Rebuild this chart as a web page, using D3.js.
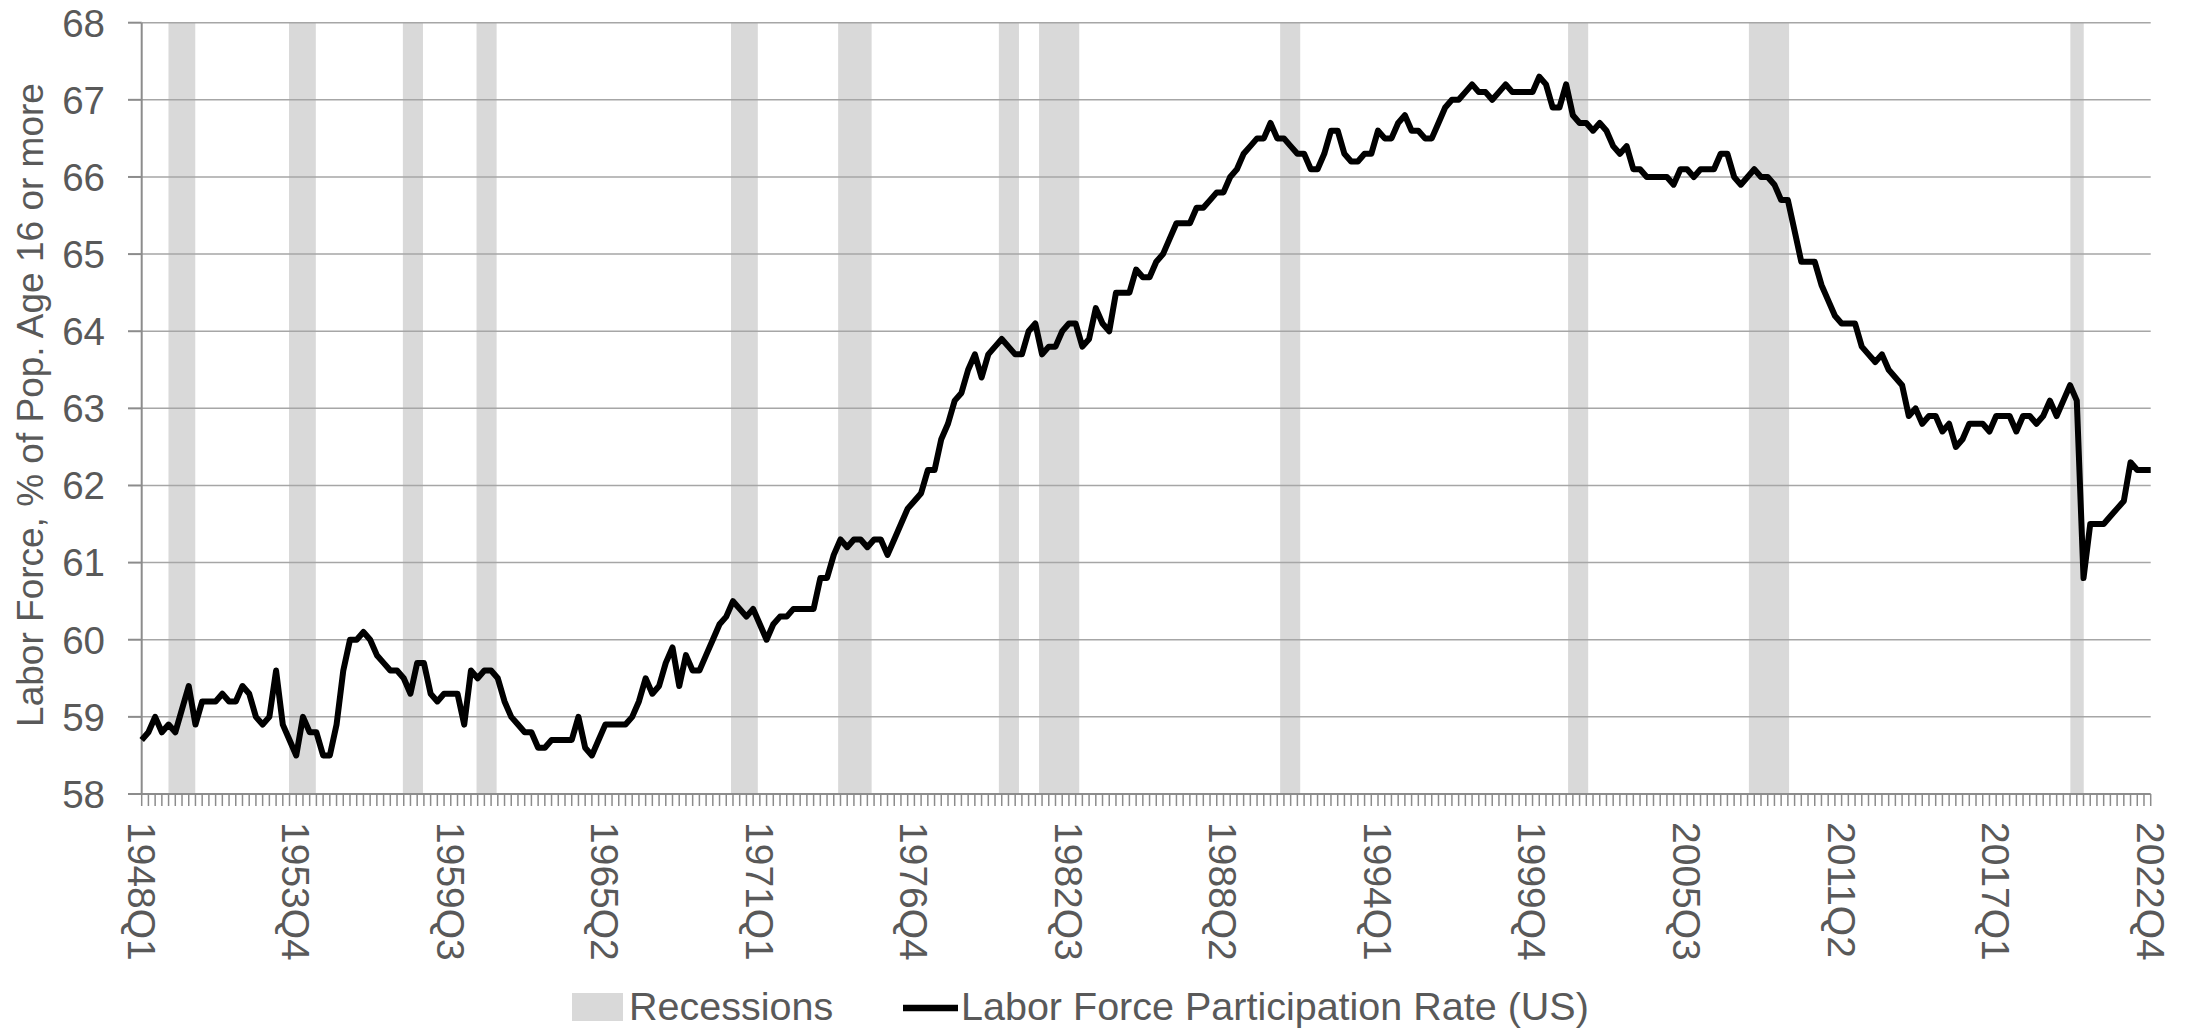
<!DOCTYPE html>
<html>
<head>
<meta charset="utf-8">
<script src="https://cdnjs.cloudflare.com/ajax/libs/d3/7.8.5/d3.min.js"></script>
<style>
  html, body { margin: 0; padding: 0; background: #fff; }
  svg { display: block; }
  text { font-family: "Liberation Sans", Arial, sans-serif; fill: #595959; }
</style>
</head>
<body>
<svg id="chart"></svg>
<script>
// quarterly categories 1948Q1 .. 2022Q4
const quarters = [];
for (let yr = 1948; yr <= 2022; yr++) for (let q = 1; q <= 4; q++) quarters.push(`${yr}Q${q}`);

// labor force participation rate, one row per year (Q1..Q4)
const lfpr = [
  58.7, 58.8, 59.0, 58.8,  // 1948
  58.9, 58.8, 59.1, 59.4,
  58.9, 59.2, 59.2, 59.2,  // 1950
  59.3, 59.2, 59.2, 59.4,
  59.3, 59.0, 58.9, 59.0,
  59.6, 58.9, 58.7, 58.5,
  59.0, 58.8, 58.8, 58.5,
  58.5, 58.9, 59.6, 60.0,  // 1955
  60.0, 60.1, 60.0, 59.8,
  59.7, 59.6, 59.6, 59.5,
  59.3, 59.7, 59.7, 59.3,
  59.2, 59.3, 59.3, 59.3,
  58.9, 59.6, 59.5, 59.6,  // 1960
  59.6, 59.5, 59.2, 59.0,
  58.9, 58.8, 58.8, 58.6,
  58.6, 58.7, 58.7, 58.7,
  58.7, 59.0, 58.6, 58.5,
  58.7, 58.9, 58.9, 58.9,  // 1965
  58.9, 59.0, 59.2, 59.5,
  59.3, 59.4, 59.7, 59.9,
  59.4, 59.8, 59.6, 59.6,
  59.8, 60.0, 60.2, 60.3,
  60.5, 60.4, 60.3, 60.4,  // 1970
  60.2, 60.0, 60.2, 60.3,
  60.3, 60.4, 60.4, 60.4,
  60.4, 60.8, 60.8, 61.1,
  61.3, 61.2, 61.3, 61.3,
  61.2, 61.3, 61.3, 61.1,  // 1975
  61.3, 61.5, 61.7, 61.8,
  61.9, 62.2, 62.2, 62.6,
  62.8, 63.1, 63.2, 63.5,
  63.7, 63.4, 63.7, 63.8,
  63.9, 63.8, 63.7, 63.7,  // 1980
  64.0, 64.1, 63.7, 63.8,
  63.8, 64.0, 64.1, 64.1,
  63.8, 63.9, 64.3, 64.1,
  64.0, 64.5, 64.5, 64.5,
  64.8, 64.7, 64.7, 64.9,  // 1985
  65.0, 65.2, 65.4, 65.4,
  65.4, 65.6, 65.6, 65.7,
  65.8, 65.8, 66.0, 66.1,
  66.3, 66.4, 66.5, 66.5,
  66.7, 66.5, 66.5, 66.4,  // 1990
  66.3, 66.3, 66.1, 66.1,
  66.3, 66.6, 66.6, 66.3,
  66.2, 66.2, 66.3, 66.3,
  66.6, 66.5, 66.5, 66.7,
  66.8, 66.6, 66.6, 66.5,  // 1995
  66.5, 66.7, 66.9, 67.0,
  67.0, 67.1, 67.2, 67.1,
  67.1, 67.0, 67.1, 67.2,
  67.1, 67.1, 67.1, 67.1,
  67.3, 67.2, 66.9, 66.9,  // 2000
  67.2, 66.8, 66.7, 66.7,
  66.6, 66.7, 66.6, 66.4,
  66.3, 66.4, 66.1, 66.1,
  66.0, 66.0, 66.0, 66.0,
  65.9, 66.1, 66.1, 66.0,  // 2005
  66.1, 66.1, 66.1, 66.3,
  66.3, 66.0, 65.9, 66.0,
  66.1, 66.0, 66.0, 65.9,
  65.7, 65.7, 65.3, 64.9,
  64.9, 64.9, 64.6, 64.4,  // 2010
  64.2, 64.1, 64.1, 64.1,
  63.8, 63.7, 63.6, 63.7,
  63.5, 63.4, 63.3, 62.9,
  63.0, 62.8, 62.9, 62.9,
  62.7, 62.8, 62.5, 62.6,  // 2015
  62.8, 62.8, 62.8, 62.7,
  62.9, 62.9, 62.9, 62.7,
  62.9, 62.9, 62.8, 62.9,
  63.1, 62.9, 63.1, 63.3,
  63.1, 60.8, 61.5, 61.5,  // 2020
  61.5, 61.6, 61.7, 61.8,
  62.3, 62.2, 62.2, 62.2
];

// recession quarters (first, last)
const recessions = [
  ["1949Q1", "1949Q4"], ["1953Q3", "1954Q2"], ["1957Q4", "1958Q2"],
  ["1960Q3", "1961Q1"], ["1970Q1", "1970Q4"], ["1974Q1", "1975Q1"],
  ["1980Q1", "1980Q3"], ["1981Q3", "1982Q4"], ["1990Q3", "1991Q1"],
  ["2001Q2", "2001Q4"], ["2008Q1", "2009Q2"], ["2020Q1", "2020Q2"]
];

const tickLabels = ["1948Q1", "1953Q4", "1959Q3", "1965Q2", "1971Q1", "1976Q4", "1982Q3",
  "1988Q2", "1994Q1", "1999Q4", "2005Q3", "2011Q2", "2017Q1", "2022Q4"];
const yTicks = [58, 59, 60, 61, 62, 63, 64, 65, 66, 67, 68];

const W = 2185, H = 1030;
const plotL = 141.7, plotR = 2150.7, plotT = 22.7, plotB = 794;

const svg = d3.select("#chart").attr("width", W).attr("height", H);

const x = d3.scalePoint().domain(quarters).range([plotL, plotR]);
const xb = d3.scaleBand().domain(quarters).range([plotL, plotR]);
const y = d3.scaleLinear().domain([58, 68]).range([plotB, plotT]);

// recession shading
svg.append("g")
    .selectAll("rect")
    .data(recessions)
    .enter()
    .append("rect")
    .attr("x", d => xb(d[0]))
    .attr("width", d => xb(d[1]) + xb.bandwidth() - xb(d[0]))
    .attr("y", plotT)
    .attr("height", plotB - plotT)
    .attr("fill", "#d9d9d9");

// gridlines + y ticks
const grid = svg.append("g");
grid.selectAll("line.grid")
    .data(yTicks.filter(v => v > 58))
    .enter()
    .append("line")
    .attr("class", "grid")
    .attr("x1", plotL).attr("x2", plotR)
    .attr("y1", d => y(d)).attr("y2", d => y(d))
    .attr("stroke", "#a6a6a6")
    .attr("stroke-width", 1.5);

grid.selectAll("line.ytick")
    .data(yTicks)
    .enter()
    .append("line")
    .attr("class", "ytick")
    .attr("x1", 128).attr("x2", plotL)
    .attr("y1", d => y(d)).attr("y2", d => y(d))
    .attr("stroke", "#8c8c8c")
    .attr("stroke-width", 2);

grid.selectAll("text")
    .data(yTicks)
    .enter()
    .append("text")
    .attr("x", 105)
    .attr("y", d => y(d))
    .attr("dy", "0.36em")
    .attr("text-anchor", "end")
    .style("font-size", "38.5px")
    .text(d => d);

// axes lines
svg.append("line")
    .attr("x1", plotL).attr("x2", plotL).attr("y1", plotT).attr("y2", plotB)
    .attr("stroke", "#8c8c8c").attr("stroke-width", 2);
svg.append("line")
    .attr("x1", plotL).attr("x2", plotR).attr("y1", plotB).attr("y2", plotB)
    .attr("stroke", "#8c8c8c").attr("stroke-width", 2);

// x ticks, one per quarter
svg.append("g")
    .selectAll("line")
    .data(quarters)
    .enter()
    .append("line")
    .attr("x1", d => x(d)).attr("x2", d => x(d))
    .attr("y1", plotB).attr("y2", plotB + 12)
    .attr("stroke", "#8c8c8c")
    .attr("stroke-width", 1.5);

svg.append("g")
    .selectAll("text")
    .data(tickLabels)
    .enter()
    .append("text")
    .attr("transform", d => `translate(${x(d)},822) rotate(90)`)
    .attr("dy", "0.36em")
    .attr("text-anchor", "start")
    .style("font-size", "39px")
    .text(d => d);

// y axis title
svg.append("text")
    .attr("transform", `translate(43,405) rotate(-90)`)
    .attr("text-anchor", "middle")
    .style("font-size", "37px")
    .text("Labor Force, % of Pop. Age 16 or more");

// the series
const line = d3.line()
    .x((d, i) => x(quarters[i]))
    .y(d => y(d));

svg.append("path")
    .datum(lfpr)
    .attr("d", line)
    .attr("fill", "none")
    .attr("stroke", "#000")
    .attr("stroke-width", 6)
    .attr("stroke-linejoin", "round");

// legend
const legend = svg.append("g");
legend.append("rect")
    .attr("x", 572).attr("y", 993).attr("width", 51).attr("height", 28)
    .attr("fill", "#d9d9d9");
legend.append("text")
    .attr("x", 629).attr("y", 1020)
    .style("font-size", "39.5px")
    .text("Recessions");
legend.append("line")
    .attr("x1", 903).attr("x2", 958).attr("y1", 1008).attr("y2", 1008)
    .attr("stroke", "#000").attr("stroke-width", 6.5);
legend.append("text")
    .attr("x", 961).attr("y", 1020)
    .style("font-size", "39.5px")
    .text("Labor Force Participation Rate (US)");
</script>
</body>
</html>
